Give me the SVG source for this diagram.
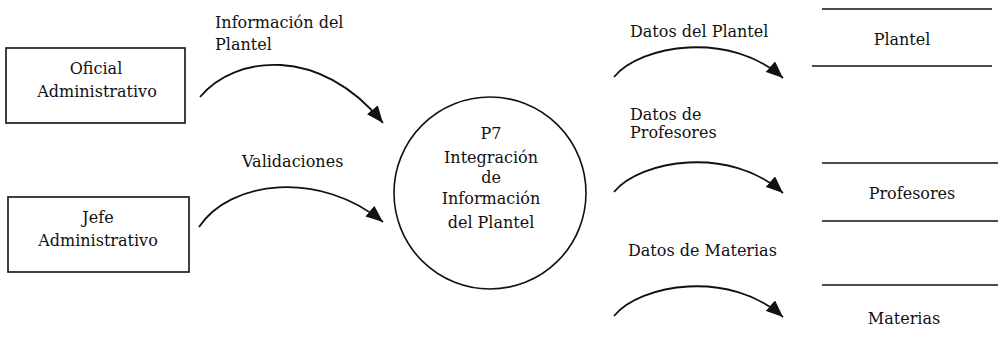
<svg xmlns="http://www.w3.org/2000/svg" width="998" height="343" viewBox="0 0 998 343">
<style>
text{font-family:"DejaVu Serif","Liberation Serif",serif;font-size:16px;fill:#111}
.c{text-anchor:middle}
.box{fill:#fff;stroke:#111;stroke-width:1.6}
.proc{fill:#fff;stroke:#111;stroke-width:1.6}
.store{stroke:#111;stroke-width:1.6}
.flow{fill:none;stroke:#111;stroke-width:1.8;marker-end:url(#ah)}
</style>
<defs>
<marker id="ah" markerUnits="userSpaceOnUse" markerWidth="18" markerHeight="14" refX="17" refY="7" orient="auto">
<path d="M0,0 L17,7 L0,14 z" fill="#111"/>
</marker>
</defs>
<rect width="998" height="343" fill="#fff"/>
<g id="connectors">
<path class="flow" d="M200,97 C235,55 320,45 383,123"/>
<path class="flow" d="M199,227 C230,180 320,170 383,222"/>
<path class="flow" d="M614,77 C640,45 730,30 783,78"/>
<path class="flow" d="M614,192 C640,160 730,145 783,193"/>
<path class="flow" d="M614,316 C640,284 730,269 783,317"/>
</g>
<g id="flow-labels">
<text x="215" y="28">Información del</text>
<text x="215" y="50">Plantel</text>
<text x="242" y="167">Validaciones</text>
<text x="630" y="37">Datos del Plantel</text>
<text x="630" y="120">Datos de</text>
<text x="630" y="138">Profesores</text>
<text x="628" y="256">Datos de Materias</text>
</g>
<g id="oficial">
<rect class="box" x="6" y="48" width="179" height="75"/>
<text class="c" x="96" y="74">Oficial</text>
<text class="c" x="97" y="97">Administrativo</text>
</g>
<g id="jefe">
<rect class="box" x="8" y="197" width="181" height="75"/>
<text class="c" x="98" y="223">Jefe</text>
<text class="c" x="98" y="246">Administrativo</text>
</g>
<g id="p7">
<ellipse class="proc" cx="490" cy="193" rx="96" ry="96"/>
<text class="c" x="491" y="139">P7</text>
<text class="c" x="491" y="163">Integración</text>
<text class="c" x="491" y="183">de</text>
<text class="c" x="491" y="204">Información</text>
<text class="c" x="491" y="228">del Plantel</text>
</g>
<g id="plantel">
<line class="store" x1="822" y1="9" x2="992" y2="9"/>
<line class="store" x1="812" y1="66" x2="992" y2="66"/>
<text class="c" x="902" y="45">Plantel</text>
</g>
<g id="profesores">
<line class="store" x1="822" y1="163" x2="998" y2="163"/>
<line class="store" x1="822" y1="221" x2="998" y2="221"/>
<text class="c" x="912" y="199">Profesores</text>
</g>
<g id="materias">
<line class="store" x1="822" y1="285" x2="998" y2="285"/>
<text class="c" x="904" y="324">Materias</text>
</g>
</svg>
